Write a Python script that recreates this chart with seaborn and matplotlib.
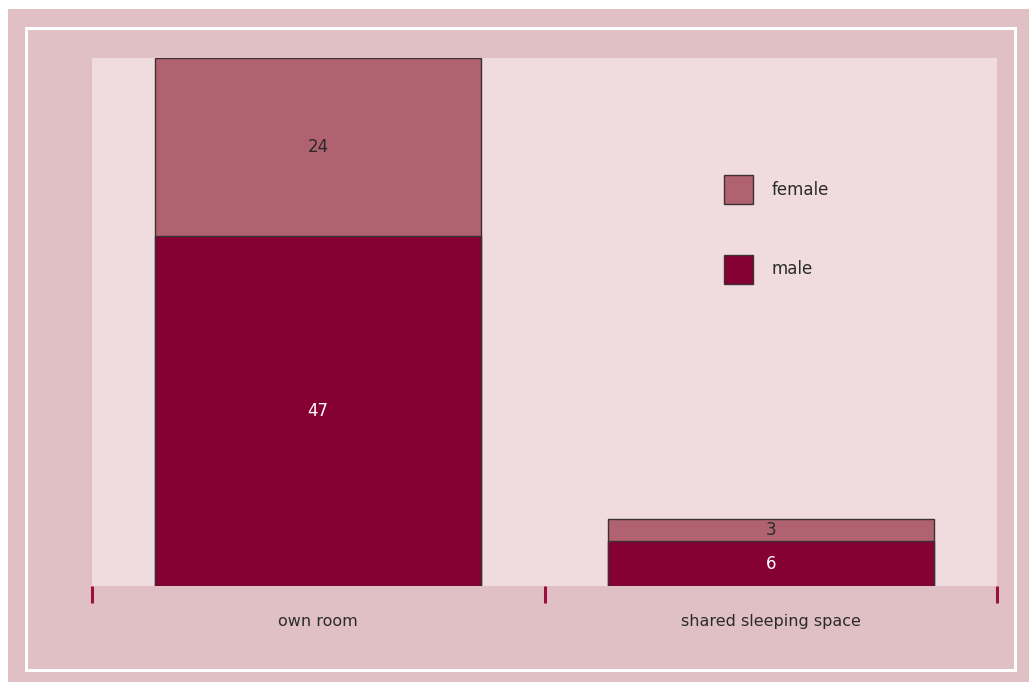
import matplotlib
matplotlib.use("Agg")
import matplotlib.pyplot as plt
import seaborn as sns
import pandas as pd
from matplotlib.patches import Rectangle, Patch

# Sleeping arrangement by gender
categories = ["own room", "shared sleeping space"]
male = [47, 6]
female = [24, 3]

OUTER = "#E0C0C4"
PANEL = "#F0DCDF"
MALE_C = "#850033"
FEMALE_C = "#B06270"
EDGE = "#3a3035"
TICK_C = "#9B1040"

sns.set_theme(style="white")
plt.rcParams["font.family"] = ["DejaVu Sans"]

W, H = 1029, 682
fig = plt.figure(figsize=(W / 100, H / 100), dpi=100)
fig.patch.set_facecolor("white")

# framed background
fig.patches.append(Rectangle((8 / W, 0), 1 - 8 / W, 1 - 9 / H,
                             transform=fig.transFigure, facecolor=OUTER,
                             edgecolor="none", zorder=-10))
fig.patches.append(Rectangle((25.5 / W, 1 - 669.5 / H), (1015 - 25.5) / W, (669.5 - 27.5) / H,
                             transform=fig.transFigure, facecolor="none",
                             edgecolor="white", linewidth=2.2, zorder=-9))

ax = fig.add_axes([92 / W, 1 - 586 / H, (997 - 92) / W, (586 - 58) / H])
ax.set_facecolor(PANEL)

df = pd.DataFrame({"category": categories, "male": male, "female": female})
df["total"] = df["male"] + df["female"]

bw = 0.72
sns.barplot(data=df, x="category", y="total", color=FEMALE_C, width=bw,
            edgecolor=EDGE, linewidth=1.0, saturation=1, ax=ax)
sns.barplot(data=df, x="category", y="male", color=MALE_C, width=bw,
            edgecolor=EDGE, linewidth=1.0, saturation=1, ax=ax)

ax.set_xlim(-0.5, 1.5)
ax.set_ylim(0, 71)

for i, (m, f) in enumerate(zip(male, female)):
    ax.text(i, m / 2, str(m), ha="center", va="center", color="white", fontsize=12)
    ax.text(i, m + f / 2, str(f), ha="center", va="center", color="#2a2a2a", fontsize=12)

for s in ax.spines.values():
    s.set_visible(False)
ax.set_xlabel("")
ax.set_ylabel("")
ax.set_yticks([])
ax.set_xticks(range(len(categories)))
ax.set_xticklabels(categories, fontsize=11.5, color="#2a2a2a")
ax.tick_params(axis="x", which="major", length=0, pad=20, bottom=True)
ax.set_xticks([-0.5, 0.5, 1.5], minor=True)
ax.tick_params(axis="x", which="minor", length=12, width=2.2, color=TICK_C,
               direction="out", bottom=True)

handles = [Patch(facecolor=FEMALE_C, edgecolor=EDGE, label="female"),
           Patch(facecolor=MALE_C, edgecolor=EDGE, label="male")]
leg = ax.legend(handles=handles, loc="upper left",
                bbox_to_anchor=((724 - 92) / 905, (586 - 175) / 528),
                frameon=False, fontsize=12, handlelength=1.74, handleheight=2.3,
                labelspacing=3.05, handletextpad=1.1, borderpad=0, borderaxespad=0,
                labelcolor="#2a2a2a")

fig.savefig("out.png", dpi=100, facecolor=fig.get_facecolor())
